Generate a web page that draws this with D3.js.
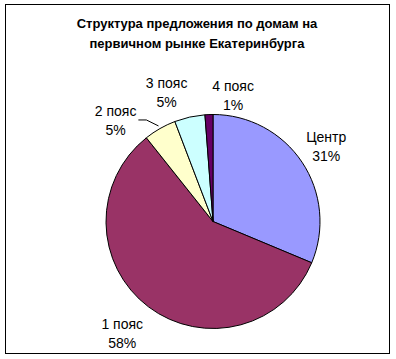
<!DOCTYPE html>
<html>
<head>
<meta charset="utf-8">
<script src="https://cdn.jsdelivr.net/npm/d3@7"></script>
<style>
  html, body { margin: 0; padding: 0; background: #fff; }
  svg { display: block; }
</style>
</head>
<body>
<svg id="chart" width="396" height="359"></svg>
<script>
// ---- data ----
const titleLines = ["Структура предложения по домам на", "первичном рынке Екатеринбурга"];
const categories = ["Центр", "1 пояс", "2 пояс", "3 пояс", "4 пояс"];
const values = [31.3, 58.0, 4.9, 4.6, 1.2];
const colors = ["#9999FF", "#993366", "#FFFFCC", "#CCFFFF", "#660066"];

// ---- layout ----
const W = 396, H = 359;
const cx = 213, cy = 221.5, R = 107;
// label placement relative to slice mid-angle (degrees nudge, radius)
const labelNudge = [0, 2, -14.4, -7.2, 11.2];
const labelRadius = [136, 144, 140, 137, 128];
const leaderFor = [false, false, true, false, false];
const lineGap = 19;

const svg = d3.select("#chart");

svg.append("rect")
  .attr("x", 5.5).attr("y", 4.5)
  .attr("width", 384).attr("height", 349)
  .attr("fill", "#fff").attr("stroke", "#000").attr("stroke-width", 1);

const title = svg.append("text")
  .attr("text-anchor", "middle")
  .attr("font-family", "Liberation Sans, Arial, sans-serif")
  .attr("font-weight", "bold")
  .attr("font-size", 13)
  .attr("fill", "#000");
titleLines.forEach((t, i) => {
  title.append("tspan").attr("x", 197).attr("y", 28 + i * 20).text(t);
});

const total = d3.sum(values);
const pie = d3.pie().sort(null).value(d => d)(values);
const arc = d3.arc().innerRadius(0).outerRadius(R);

const g = svg.append("g").attr("transform", `translate(${cx},${cy})`);

g.selectAll("path.slice")
  .data(pie)
  .join("path")
  .attr("class", "slice")
  .attr("d", arc)
  .attr("fill", (d, i) => colors[i])
  .attr("stroke", "#000")
  .attr("stroke-width", 1);

const toRad = Math.PI / 180;
pie.forEach((d, i) => {
  const mid = (d.startAngle + d.endAngle) / 2;
  const a = mid + labelNudge[i] * toRad;
  const lx = labelRadius[i] * Math.sin(a);
  const ly = -labelRadius[i] * Math.cos(a);
  const pct = Math.round(values[i] / total * 100) + "%";
  const t = g.append("text")
    .attr("text-anchor", "middle")
    .attr("font-family", "Liberation Sans, Arial, sans-serif")
    .attr("font-size", 14)
    .attr("fill", "#000");
  t.append("tspan").attr("x", lx).attr("y", ly - lineGap / 2).attr("dominant-baseline", "central").text(categories[i]);
  t.append("tspan").attr("x", lx).attr("y", ly + lineGap / 2).attr("dominant-baseline", "central").text(pct);

  if (leaderFor[i]) {
    const w = t.node().getBBox().width;
    const ex = lx + w / 2 + 2, ey = ly - 1;
    const px = (R + 3) * Math.sin(mid), py = -(R + 3) * Math.cos(mid);
    g.append("path")
      .attr("d", d3.line()([[ex, ey], [ex + 8, ey], [px, py]]))
      .attr("fill", "none").attr("stroke", "#000").attr("stroke-width", 1);
  }
});
</script>
</body>
</html>
